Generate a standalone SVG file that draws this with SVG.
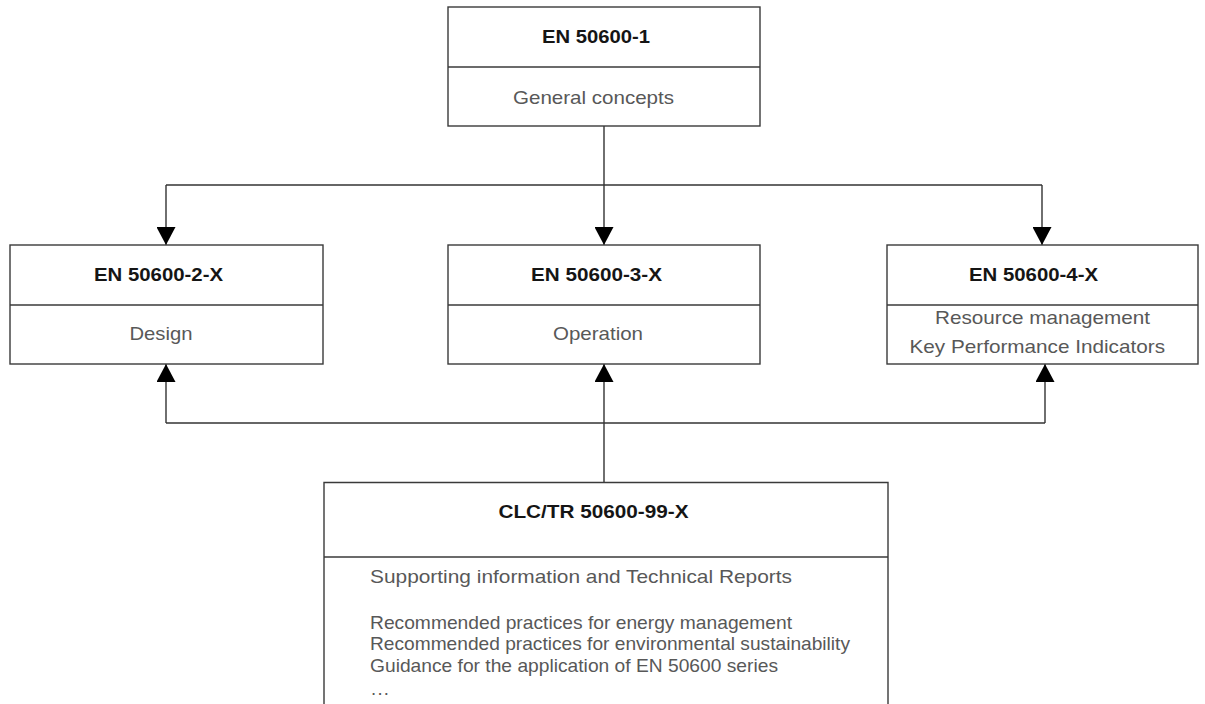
<svg xmlns="http://www.w3.org/2000/svg" width="1205" height="704" viewBox="0 0 1205 704">
  <style>
    .box { fill: #ffffff; stroke: #3a3a3a; stroke-width: 1.4; }
    .div { stroke: #3a3a3a; stroke-width: 1.4; fill: none; }
    .title { font-family: "Liberation Sans", Arial, sans-serif; font-weight: bold; font-size: 18.5px; fill: #151515; }
    .body { font-family: "Liberation Sans", Arial, sans-serif; font-size: 18.5px; fill: #585858; }
    .conn { stroke: #333333; stroke-width: 1.4; fill: none; }
  </style>
  <defs>
    <marker id="arrow" viewBox="0 0 18 19" refX="18" refY="9.5" markerWidth="18" markerHeight="19" markerUnits="userSpaceOnUse" orient="auto">
      <path d="M0,0 L18,9.5 L0,19 Z" fill="#000000"/>
    </marker>
  </defs>
  <rect width="1205" height="704" fill="#ffffff"/>

  <g id="connectors">
    <path class="conn" d="M604,126 V245" marker-end="url(#arrow)"/>
    <path class="conn" d="M166,185 H1042"/>
    <path class="conn" d="M166,185 V245" marker-end="url(#arrow)"/>
    <path class="conn" d="M1042,185 V245" marker-end="url(#arrow)"/>
    <path class="conn" d="M604,482 V364" marker-end="url(#arrow)"/>
    <path class="conn" d="M166,423 H1045"/>
    <path class="conn" d="M166,423 V364" marker-end="url(#arrow)"/>
    <path class="conn" d="M1045,423 V364" marker-end="url(#arrow)"/>
  </g>

  <g id="node-en50600-1">
    <rect class="box" x="448" y="7" width="312" height="119"/>
    <line class="div" x1="448" y1="67" x2="760" y2="67"/>
    <text class="title" x="542" y="42.5" textLength="108" lengthAdjust="spacingAndGlyphs">EN 50600-1</text>
    <text class="body" x="513" y="104" textLength="161" lengthAdjust="spacingAndGlyphs">General concepts</text>
  </g>

  <g id="node-en50600-2">
    <rect class="box" x="10" y="245" width="313" height="119"/>
    <line class="div" x1="10" y1="305" x2="323" y2="305"/>
    <text class="title" x="94" y="281" textLength="129" lengthAdjust="spacingAndGlyphs">EN 50600-2-X</text>
    <text class="body" x="129.5" y="340" textLength="63" lengthAdjust="spacingAndGlyphs">Design</text>
  </g>

  <g id="node-en50600-3">
    <rect class="box" x="448" y="245" width="312" height="119"/>
    <line class="div" x1="448" y1="305" x2="760" y2="305"/>
    <text class="title" x="531" y="281" textLength="131" lengthAdjust="spacingAndGlyphs">EN 50600-3-X</text>
    <text class="body" x="553" y="340" textLength="90" lengthAdjust="spacingAndGlyphs">Operation</text>
  </g>

  <g id="node-en50600-4">
    <rect class="box" x="887" y="245" width="311" height="119"/>
    <line class="div" x1="887" y1="305" x2="1198" y2="305"/>
    <text class="title" x="969" y="281" textLength="129" lengthAdjust="spacingAndGlyphs">EN 50600-4-X</text>
    <text class="body" x="935" y="323.5" textLength="215" lengthAdjust="spacingAndGlyphs">Resource management</text>
    <text class="body" x="909.5" y="352.5" textLength="255.5" lengthAdjust="spacingAndGlyphs">Key Performance Indicators</text>
  </g>

  <g id="node-clc-tr-50600-99">
    <path class="box" d="M324,706 V482.5 H888 V706"/>
    <line class="div" x1="324" y1="557" x2="888" y2="557"/>
    <text class="title" x="498.5" y="518" textLength="190" lengthAdjust="spacingAndGlyphs">CLC/TR 50600-99-X</text>
    <text class="body" x="370" y="582.5" textLength="422" lengthAdjust="spacingAndGlyphs">Supporting information and Technical Reports</text>
    <text class="body" x="370" y="628.5" textLength="422" lengthAdjust="spacingAndGlyphs">Recommended practices for energy management</text>
    <text class="body" x="370" y="650" textLength="480" lengthAdjust="spacingAndGlyphs">Recommended practices for environmental sustainability</text>
    <text class="body" x="370" y="671.5" textLength="408" lengthAdjust="spacingAndGlyphs">Guidance for the application of EN 50600 series</text>
    <text class="body" x="371" y="695" textLength="18" lengthAdjust="spacing" fill="#888888">...</text>
  </g>
</svg>
